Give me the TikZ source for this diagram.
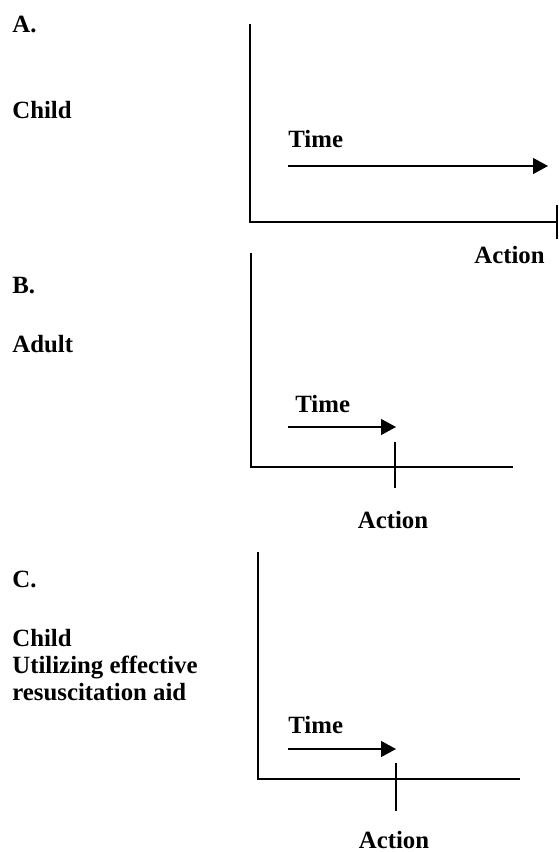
\documentclass[tikz,border=0pt]{standalone}
\usepackage{fontspec}
\setmainfont{Liberation Serif}
\usetikzlibrary{arrows.meta}
\tikzset{
  label/.style = {inner sep=0pt, font=\fontsize{12.4}{13.5}\selectfont\bfseries},
  axis/.style = {line width=0.9pt},
  tick/.style = {line width=0.7pt},
  timearrow/.style = {line width=0.6pt, -{Triangle[length=7.5pt,width=8pt]}}
}

\begin{document}
\begin{tikzpicture}[x=0.5pt,y=-0.5pt]
  \useasboundingbox (0,0) rectangle (558,852);
  % panel A
  \node[label,anchor=base west] (labA) at (12,32) {A.};
  \node[label,anchor=base west] (whoA) at (12,118) {Child};
  \draw[axis] (250,24) -- (250,222) -- (558,222);
  \draw[tick] (557,205) -- (557,239);
  \node[label,anchor=base west] (timeA) at (288,147) {Time};
  \draw[timearrow] (288,166) -- (548,166);
  \node[label,anchor=base east] (actA) at (545,263) {Action};
  % panel B
  \node[label,anchor=base west] (labB) at (12,293) {B.};
  \node[label,anchor=base west] (whoB) at (12,352) {Adult};
  \draw[axis] (251,253) -- (251,467) -- (513,467);
  \draw[tick] (395,442) -- (395,488);
  \node[label,anchor=base west] (timeB) at (295,412) {Time};
  \draw[timearrow] (288,427) -- (396,427);
  \node[label,anchor=base] (actB) at (393,528) {Action};
  % panel C
  \node[label,anchor=base west] (labC) at (12,587) {C.};
  \node[label,anchor=base west,align=left] (whoC) at (12,700)
    {Child\\Utilizing effective\\resuscitation aid};
  \draw[axis] (258,552) -- (258,779) -- (520,779);
  \draw[tick] (396,763) -- (396,811);
  \node[label,anchor=base west] (timeC) at (288,733) {Time};
  \draw[timearrow] (288,749) -- (396,749);
  \node[label,anchor=base] (actC) at (394,848) {Action};
\end{tikzpicture}
\end{document}
